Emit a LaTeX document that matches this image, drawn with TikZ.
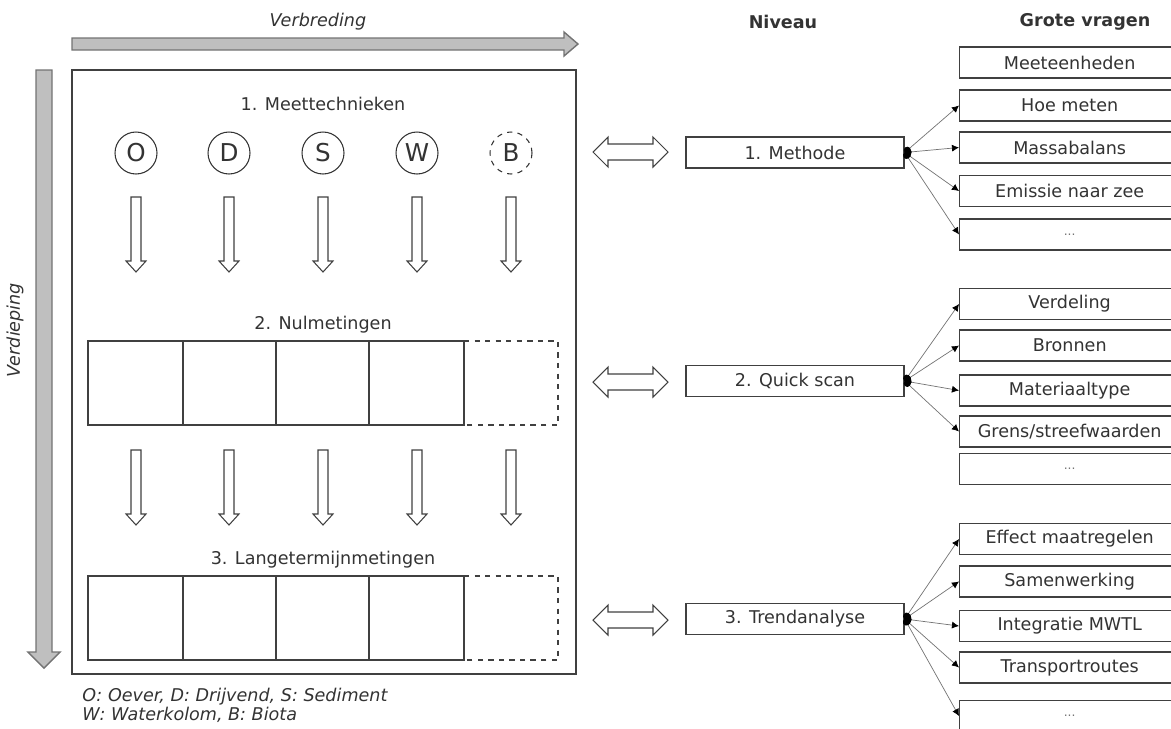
\documentclass[tikz,border=0pt]{standalone}
\usepackage{fontspec}
\setmainfont{DejaVu Sans}
\usetikzlibrary{arrows.meta}

\newcommand{\tekst}{\fontsize{10}{11}\selectfont}
\newcommand{\puntjes}{{\fontsize{7}{7}\selectfont\color{black!55}...}}

\tikzset{
  rand/.style={draw=black!75, line width=0.8pt},
  vak/.style={draw=black!75, line width=0.6pt},
  niveau/.style={rand, fill=white, minimum width=4.36cm, minimum height=0.62cm, inner sep=0pt, font=\tekst},
  vraag/.style={rand, fill=white, anchor=west, minimum width=4.4cm, minimum height=0.62cm, inner sep=0pt, font=\tekst},
  meet/.style={circle, draw=black!80, line width=0.6pt, minimum size=0.84cm, inner sep=0pt, font=\fontsize{14}{14}\selectfont},
  grijs/.style={draw=black!55, fill=black!25, line width=0.8pt},
  hol/.style={draw=black!75, fill=white, line width=0.6pt},
  tak/.style={draw=black!55, line width=0.4pt, {Circle[length=4pt,color=black]}-{Latex[length=4pt,width=4pt,color=black]}}
}

\begin{document}
\begin{tikzpicture}[x=0.02cm, y=-0.02cm, every node/.append style={text=black!80}]
\clip (0,0) rectangle (1171,728);
% kopjes
\node[font=\tekst\itshape] (vb) at (318,22) {Verbreding};
\node[font=\tekst\itshape, rotate=90] (vd) at (15,330) {Verdieping};
\node[font=\tekst\bfseries] (nv) at (783,22) {Niveau};
\node[font=\tekst\bfseries] (gv) at (1085,22) {Grote vragen};
% grijze pijlen
\draw[grijs] (72,38) -- (564,38) -- (564,32) -- (578,44) -- (564,56) -- (564,50) -- (72,50) -- cycle;
\draw[grijs] (36,70) -- (52,70) -- (52,652) -- (60,652) -- (44,668) -- (28,652) -- (36,652) -- cycle;
% meetschema
\draw[rand] (72,70) rectangle (576,674);
\node[font=\tekst] (t1) at (323,104) {1. Meettechnieken};
\node[font=\tekst] (t2) at (323,325) {2. Nulmetingen};
\node[font=\tekst] (t3) at (323,560) {3. Langetermijnmetingen};
\foreach \l/\x in {O/136,D/229,S/323,W/417}
  \node[meet] (c\l) at (\x,153) {\l};
\node[meet, dashed] (cB) at (511,153) {B};
\foreach \x in {136,229,323,417,511}{
\foreach \y in {197,450}{
\draw[hol] (\x-5,\y) -- (\x+5,\y) -- (\x+5,\y+64) -- (\x+10,\y+64) -- (\x,\y+75) -- (\x-10,\y+64) -- (\x-5,\y+64) -- cycle;
}
}
\foreach \y in {341,576}{
\draw[vak] (88,\y) rectangle (464,\y+84);
\foreach \x in {183,276,369}
  \draw[vak] (\x,\y) -- (\x,\y+84);
\draw[vak, dashed] (464,\y) -- (558,\y) -- (558,\y+84) -- (464,\y+84);
}
\node[font=\fontsize{10}{10.8}\selectfont\itshape, anchor=north west, align=left, inner sep=0pt] (leg) at (82,688) {O: Oever, D: Drijvend, S: Sediment\\W: Waterkolom, B: Biota};
% dubbele pijlen
\foreach \y in {152,382,620}
  \draw[hol] (593,\y) -- (608,\y-15) -- (608,\y-8) -- (653,\y-8) -- (653,\y-15) -- (668,\y) -- (653,\y+15) -- (653,\y+8) -- (608,\y+8) -- (608,\y+15) -- cycle;
% niveaus
\node[niveau] (N1) at (795,152.5) {1. Methode};
\node[niveau] (N2) at (795,381) {2. Quick scan};
\node[niveau] (N3) at (795,619) {3. Trendanalyse};
% grote vragen
\node[vraag] (Q11) at (959,62.5) {Meeteenheden};
\node[vraag] (Q12) at (959,105.5) {Hoe meten};
\node[vraag] (Q13) at (959,147.5) {Massabalans};
\node[vraag] (Q14) at (959,191) {Emissie naar zee};
\node[vraag] (Q15) at (959,234.5) {\puntjes};
\node[vraag] (Q21) at (959,304) {Verdeling};
\node[vraag] (Q22) at (959,345.5) {Bronnen};
\node[vraag] (Q23) at (959,390.5) {Materiaaltype};
\node[vraag] (Q24) at (959,431.5) {Grens/streefwaarden};
\node[vraag] (Q25) at (959,469) {\puntjes};
\node[vraag] (Q31) at (959,539) {Effect maatregelen};
\node[vraag] (Q32) at (959,581.5) {Samenwerking};
\node[vraag] (Q33) at (959,626) {Integratie MWTL};
\node[vraag] (Q34) at (959,667.5) {Transportroutes};
\node[vraag] (Q35) at (959,716) {\puntjes};
\foreach \i in {2,...,5}
  \draw[tak] (N1.east) -- (Q1\i.west);
\foreach \i in {1,...,4}
  \draw[tak] (N2.east) -- (Q2\i.west);
\foreach \i in {1,...,5}
  \draw[tak] (N3.east) -- (Q3\i.west);
\end{tikzpicture}
\end{document}
